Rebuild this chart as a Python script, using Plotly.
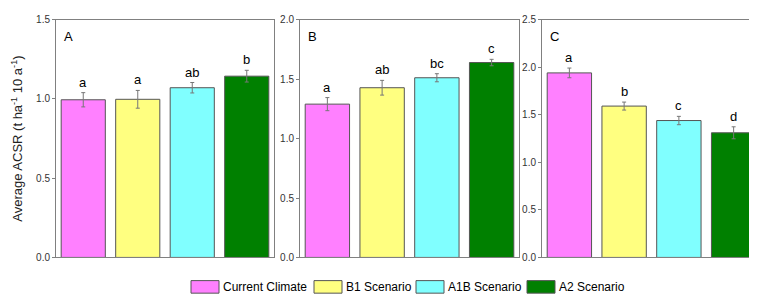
import plotly.graph_objects as go

scenarios = ["Current Climate", "B1 Scenario", "A1B Scenario", "A2 Scenario"]
colors = ["#FF80FF", "#FFFF80", "#80FFFF", "#008000"]
panels = ["A", "B", "C"]

values_A = [0.995, 0.998, 1.071, 1.144]
errors_A = [0.045, 0.056, 0.033, 0.037]
letters_A = ["a", "a", "ab", "b"]

values_B = [1.29, 1.428, 1.512, 1.64]
errors_B = [0.055, 0.062, 0.034, 0.027]
letters_B = ["a", "ab", "bc", "c"]

values_C = [1.941, 1.592, 1.44, 1.311]
errors_C = [0.051, 0.042, 0.044, 0.063]
letters_C = ["a", "b", "c", "d"]

yranges = [1.5, 2.0, 2.5]
ytitle = "Average ACSR (t ha<sup>-1</sup> 10 a<sup>-1</sup>)"

W, H = 757, 295
xdomains = [(48, 266), (292, 511), (534, 753)]
ytop, ybot = 7, 253

FONT = "Liberation Sans, Arial, sans-serif"
fig = go.Figure()

data = [(values_A, errors_A, letters_A), (values_B, errors_B, letters_B), (values_C, errors_C, letters_C)]

for i, (vals, errs, lets) in enumerate(data):
    xa = "x" if i == 0 else f"x{i+1}"
    ya = "y" if i == 0 else f"y{i+1}"
    fig.add_trace(go.Bar(
        x=list(range(4)), y=vals,
        marker=dict(color=colors, line=dict(color="#555555", width=1)),
        error_y=dict(type="data", array=errs, color="#777777", thickness=1, width=2),
        xaxis=xa, yaxis=ya, showlegend=False, hoverinfo="skip"))
    for j in range(4):
        fig.add_annotation(x=j, y=vals[j] + errs[j], xref=xa, yref=ya, text=lets[j],
                           showarrow=False, yanchor="bottom", yshift=1,
                           font=dict(size=13, color="#000", family=FONT))
    x0, x1 = xdomains[i]
    fig.add_annotation(x=(x0 + 6) / W, y=1 - 24 / H, xref="paper", yref="paper",
                       text=panels[i], showarrow=False, xanchor="left", yanchor="middle",
                       font=dict(size=13, color="#000", family=FONT))
    axkey = "xaxis" if i == 0 else f"xaxis{i+1}"
    aykey = "yaxis" if i == 0 else f"yaxis{i+1}"
    fig.layout[axkey] = dict(domain=[x0 / W, x1 / W], range=[-0.5, 3.5], showticklabels=False,
                             ticks="", showgrid=False, zeroline=False, showline=True,
                             linecolor="#808080", linewidth=1, mirror=True, anchor=ya)
    fig.layout[aykey] = dict(domain=[1 - ybot / H, 1 - ytop / H], range=[0, yranges[i]],
                             dtick=0.5, tickformat=".1f", ticks="outside", ticklen=3,
                             tickcolor="#808080", showgrid=False, zeroline=False,
                             showline=True, linecolor="#808080", linewidth=1, mirror=True,
                             tickfont=dict(size=10, color="#333", family=FONT), anchor=xa)

fig.layout.yaxis.title = dict(text=ytitle, font=dict(size=13, color="#222", family=FONT), standoff=10)

# custom legend
legend_x = [183, 306, 408, 519]
for j in range(4):
    fig.add_shape(type="rect", xref="paper", yref="paper",
                  x0=legend_x[j] / W, x1=(legend_x[j] + 28) / W,
                  y0=1 - 290 / H, y1=1 - 277 / H,
                  fillcolor=colors[j], line=dict(color="#555555", width=1))
    fig.add_annotation(x=(legend_x[j] + 30) / W, y=1 - 283.5 / H, xref="paper", yref="paper",
                       text=scenarios[j], showarrow=False, xanchor="left", yanchor="middle",
                       font=dict(size=12, color="#000", family=FONT))

fig.update_layout(width=W, height=H, margin=dict(l=0, r=0, t=0, b=0),
                  plot_bgcolor="white", paper_bgcolor="white", bargap=0.19,
                  font=dict(family=FONT))
fig.write_html("out.html")
